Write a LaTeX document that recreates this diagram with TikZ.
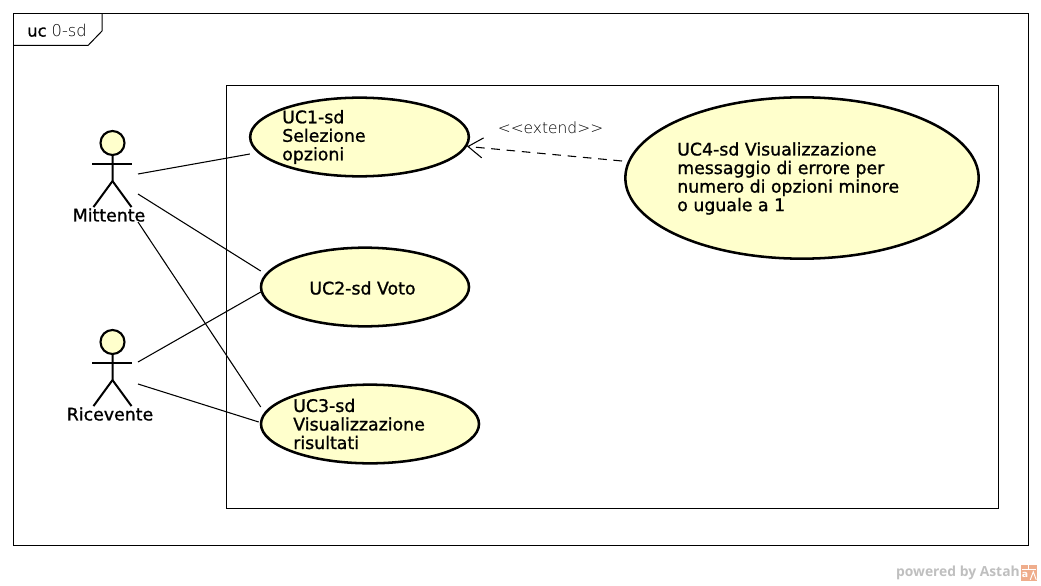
\documentclass[tikz,border=0pt]{standalone}
\usepackage{fontspec}
\setmainfont{DejaVu Sans}
\newfontfamily\ucfont[FakeBold=1.1]{DejaVu Sans}
\newfontfamily\thinfont{DejaVu Sans ExtraLight}
\newfontfamily\footfont{Open Sans}
\usetikzlibrary{shapes.geometric,arrows.meta}
\definecolor{ucfill}{HTML}{FFFFCC}
\definecolor{logoorange}{HTML}{EFAD8C}
\tikzset{
  usecase/.style={ellipse,draw,line width=1.9pt,fill=ucfill,inner sep=0pt},
  uctext/.style={align=left,inner sep=0pt,font=\ucfont\fontsize{13pt}{13.9pt}\selectfont},
  actorhead/.style={circle,draw,line width=1.6pt,fill=ucfill,inner sep=0pt,minimum size=18pt},
  stick/.style={line width=1.5pt},
  assoc/.style={line width=0.8pt},
  box/.style={draw,line width=0.75pt}
}
\begin{document}
\begin{tikzpicture}[x=0.75pt,y=-0.75pt]
  \useasboundingbox (0,0) rectangle (1041,585);
  \draw[box] (13.5,13.5) rectangle (1028.5,545.5);
  \draw[box] (13.5,45.5) -- (88,45.5) -- (102,31) -- (102,13.5);
  \node[anchor=west,inner sep=0pt,font=\fontsize{12.2pt}{14pt}\selectfont] (frame) at (27,30.5) {{\ucfont uc} {\thinfont 0-sd}};
  \draw[box] (226.5,85.5) rectangle (998.5,508.5);
  % use cases
  \node[usecase,minimum width=164pt,minimum height=59pt] (uc1) at (359.5,137) {};
  \node[usecase,minimum width=156pt,minimum height=59pt] (uc2) at (365,287) {};
  \node[usecase,minimum width=163.5pt,minimum height=59pt] (uc3) at (370,424) {};
  \node[usecase,minimum width=265pt,minimum height=121pt] (uc4) at (802,178) {};
  \node[uctext,anchor=west] (uc1text) at (282,137) {UC1-sd\\Selezione\\opzioni};
  \node[uctext] (uc2text) at (362.5,288) {UC2-sd Voto};
  \node[uctext,anchor=west] (uc3text) at (293,424) {UC3-sd\\Visualizzazione\\risultati};
  \node[uctext,anchor=west] (uc4text) at (677,178.5) {UC4-sd Visualizzazione\\messaggio di errore per\\numero di opzioni minore\\o uguale a 1};
  % actors
  \node[actorhead] (mittente) at (112.5,143) {};
  \draw[stick] (mittente.south) -- ++(0,25) -- ++(-19,26);
  \draw[stick] (mittente.south) ++(0,25) -- ++(19,26);
  \draw[stick] (mittente.center) ++(-20.5,21) -- ++(40,0);
  \node[uctext] (mittentetext) at (109,215) {Mittente};
  \node[actorhead] (ricevente) at (112.5,342) {};
  \draw[stick] (ricevente.south) -- ++(0,25) -- ++(-19,26);
  \draw[stick] (ricevente.south) ++(0,25) -- ++(19,26);
  \draw[stick] (ricevente.center) ++(-20.5,21) -- ++(40,0);
  \node[uctext] (riceventetext) at (110,414) {Ricevente};
  % free ends of the connectors
  \coordinate (m1) at (138,174);
  \coordinate (m2) at (138,194);
  \coordinate (m3) at (138,222);
  \coordinate (r1) at (138,362);
  \coordinate (r2) at (138,384);
  \coordinate (ext) at (622,161);
  \draw[assoc] (m1) -- ([shift={(1,17)}]uc1.west);
  \draw[assoc] (m2) -- ([shift={(1,-16)}]uc2.west);
  \draw[assoc] (m3) -- ([shift={(1,-17)}]uc3.west);
  \draw[assoc] (r1) -- ([shift={(1,5)}]uc2.west);
  \draw[assoc] (r2) -- ([shift={(-1,-2)}]uc3.west);
  \draw[assoc,dash pattern=on 6.5pt off 5pt,-{Straight Barb[length=11pt,width=15pt,line width=0.8pt]}] (ext) -- (uc1.355);
  \node[inner sep=0pt,font=\thinfont\fontsize{11.6pt}{14pt}\selectfont] (extlabel) at (550.5,127.5) {{<}{<}extend{>}{>}};
  % footer
  \node[anchor=east,inner sep=0pt,text=black!25,font=\footfont\bfseries\fontsize{10.4pt}{12pt}\selectfont] (powered) at (1020,573) {powered by Astah};
  \node[anchor=west,inner sep=0pt,fill=logoorange,minimum size=12pt,text=white,font=\fontsize{8pt}{8pt}\selectfont] (logo) at (1021,572.5) {};
  \draw[white,line width=0.7pt] (logo.north west) ++(1,5) -- ++(14,0) (logo.north) ++(-1,0) -- ++(0,5);
  \draw[white,line width=0.7pt] (logo.south) ++(1,-1) -- ++(3,-8) -- ++(3,8);
  \node[inner sep=0pt,text=white,font=\bfseries\fontsize{7pt}{7pt}\selectfont] (logoa) at (1025,575) {a};
\end{tikzpicture}
\end{document}
